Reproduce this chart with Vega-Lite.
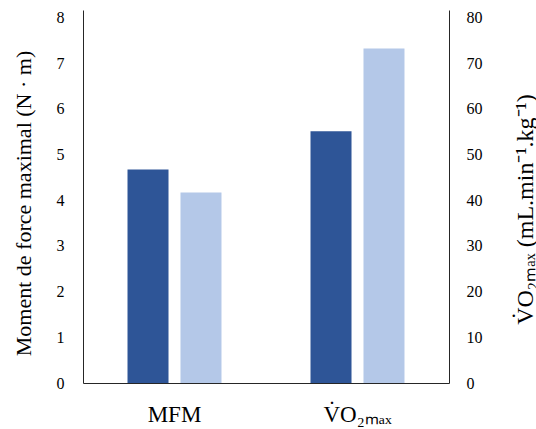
{
  "$schema": "https://vega.github.io/schema/vega-lite/v6.json",
  "autosize": {"type": "none"},
  "padding": {"left": 83, "top": 10, "right": 87, "bottom": 46},
  "width": 366,
  "height": 373,
  "background": "white",
  "config": {
    "view": {"stroke": null},
    "font": "Liberation Serif",
    "axis": {"labelFont": "Liberation Serif", "titleFont": "Liberation Serif", "labelColor": "black", "titleColor": "black", "domainColor": "#262626", "grid": false, "ticks": false, "titleFontWeight": "normal"}
  },
  "data": {"values": [
    {"measure": "MFM", "group": "A", "value": 4.67},
    {"measure": "MFM", "group": "B", "value": 4.17},
    {"measure": "V̇O₂ₘₐₓ", "group": "A", "value": 55.1},
    {"measure": "V̇O₂ₘₐₓ", "group": "B", "value": 73.2}
  ]},
  "encoding": {
    "x": {"field": "measure", "type": "nominal", "sort": null,
      "scale": {"domain": ["MFM", "V̇O₂ₘₐₓ"], "paddingInner": 0, "paddingOuter": 0},
      "axis": {"title": null, "labelAngle": 0, "labelFont": "Liberation Serif", "labelFontSize": 23, "labelPadding": 20, "domainWidth": 1}},
    "xOffset": {"field": "group", "type": "nominal", "scale": {"domain": ["A", "B"], "paddingInner": 0.226, "paddingOuter": 0.84}},
    "color": {"field": "group", "type": "nominal", "scale": {"domain": ["A", "B"], "range": ["#2E5597", "#B4C8E8"]}, "legend": null}
  },
  "layer": [
    {
      "transform": [{"filter": "datum.measure == 'MFM'"}],
      "mark": {"type": "bar"},
      "encoding": {
        "y": {"field": "value", "type": "quantitative",
          "scale": {"domain": [0, 8.16], "nice": false, "zero": true},
          "axis": {"orient": "left", "values": [0,1,2,3,4,5,6,7,8], "title": "Moment de force maximal (N · m)", "titleFont": "Liberation Serif", "labelFont": "Liberation Serif", "titleFontSize": 22, "labelFontSize": 16, "labelPadding": 19, "titleX": -60, "titleY": 193, "titleAngle": -90, "titleAlign": "center", "titleBaseline": "middle", "domainWidth": 1}}
      }
    },
    {
      "transform": [{"filter": "datum.measure != 'MFM'"}],
      "mark": {"type": "bar"},
      "encoding": {
        "y": {"field": "value", "type": "quantitative",
          "scale": {"domain": [0, 81.6], "nice": false, "zero": true},
          "axis": {"orient": "right", "values": [0,10,20,30,40,50,60,70,80], "title": "V̇O₂ₘₐₓ (mL.min⁻¹.kg⁻¹)", "titleFont": "Liberation Serif", "labelFont": "Liberation Serif", "titleAngle": -90, "titleX": 76, "titleY": 199, "titleAlign": "center", "titleBaseline": "middle", "titleFontSize": 24, "labelFontSize": 16, "labelPadding": 17, "domainWidth": 1}}
      }
    }
  ],
  "resolve": {"scale": {"y": "independent"}}
}
